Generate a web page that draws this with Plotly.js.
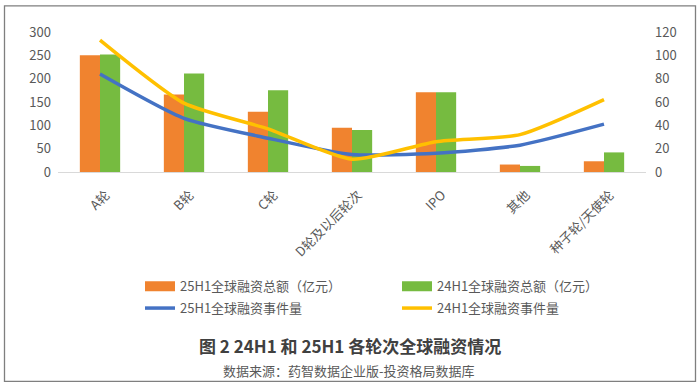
<!DOCTYPE html>
<html>
<head>
<meta charset="utf-8">
<script src="https://cdn.plot.ly/plotly-3.0.1.min.js"></script>
<style>html,body{margin:0;padding:0;background:#fff;}#chart{width:700px;height:388px;}</style>
</head>
<body>
<div id="chart"></div>
<script>
const categories = ["A轮", "B轮", "C轮", "D轮及以后轮次", "IPO", "其他", "种子轮/天使轮"];
const amount25 = [250, 166, 129, 95, 171, 16, 23];
const amount24 = [252, 211, 175, 90, 171, 13, 42];
const count25 = [84, 46, 29, 15, 16, 23, 41];
const count24 = [113, 59, 37, 11, 26, 32, 62];
const leftTicks = [0, 50, 100, 150, 200, 250, 300];
const rightTicks = [0, 20, 40, 60, 80, 100, 120];
const names = ["25H1全球融资总额（亿元）", "24H1全球融资总额（亿元）", "25H1全球融资事件量", "24H1全球融资事件量"];
const colors = ["#F0832F", "#76BB40", "#4472C4", "#FFC000"];

const FONT = "Noto Sans CJK SC, Noto Sans, sans-serif";
const GRAY = "#595959";

const traces = [
  {type: "bar", x: categories, y: amount25, name: names[0], marker: {color: colors[0]}, showlegend: false, yaxis: "y"},
  {type: "bar", x: categories, y: amount24, name: names[1], marker: {color: colors[1]}, showlegend: false, yaxis: "y"},
  {type: "scatter", mode: "lines", x: categories, y: count25, name: names[2], line: {color: colors[2], width: 3.5, shape: "spline", smoothing: 0.6}, yaxis: "y2", showlegend: false},
  {type: "scatter", mode: "lines", x: categories, y: count24, name: names[3], line: {color: colors[3], width: 3.5, shape: "spline", smoothing: 0.6}, yaxis: "y2", showlegend: false},
  // legend entries
  {type: "scatter", mode: "lines", x: [null], y: [null], name: names[0], line: {color: colors[0], width: 10}, legend: "legend"},
  {type: "scatter", mode: "lines", x: [null], y: [null], name: names[1], line: {color: colors[1], width: 10}, legend: "legend"},
  {type: "scatter", mode: "lines", x: [null], y: [null], name: names[2], line: {color: colors[2], width: 3.5}, legend: "legend2"},
  {type: "scatter", mode: "lines", x: [null], y: [null], name: names[3], line: {color: colors[3], width: 3.5}, legend: "legend2"}
];

const H = 140.6;
const py = v => (172.3 - v) / H;
const px = v => (v - 58) / 588;

const layout = {
  width: 700, height: 388,
  margin: {l: 58, r: 54, t: 31.7, b: 388 - 172.3},
  paper_bgcolor: "#fff", plot_bgcolor: "#fff",
  font: {family: FONT, size: 13, color: GRAY},
  barmode: "group", bargap: 0.52, bargroupgap: 0,
  xaxis: {
    type: "category", showgrid: false, showline: true, linecolor: "#D9D9D9", linewidth: 1.3,
    ticks: "", tickangle: -45, tickfont: {family: FONT, size: 13, color: GRAY},
    ticklabelstandoff: 9, ticklabelshift: 6
  },
  yaxis: {
    range: [0, 300], tickvals: leftTicks, showgrid: false, zeroline: false, showline: false,
    ticks: "", tickfont: {family: FONT, size: 13, color: GRAY}, ticklabelstandoff: 6
  },
  yaxis2: {
    range: [0, 120], tickvals: rightTicks, overlaying: "y", side: "right", showgrid: false, zeroline: false,
    showline: false, ticks: "", tickfont: {family: FONT, size: 13, color: GRAY}, ticklabelstandoff: 8
  },
  legend: {
    orientation: "h", x: px(140), y: py(287), xanchor: "left", yanchor: "middle",
    font: {family: FONT, size: 13, color: GRAY}, entrywidth: 212, entrywidthmode: "pixels",
    bgcolor: "rgba(0,0,0,0)", itemwidth: 30, tracegroupgap: 0
  },
  legend2: {
    orientation: "h", x: px(140), y: py(309), xanchor: "left", yanchor: "middle",
    font: {family: FONT, size: 13, color: GRAY}, entrywidth: 212, entrywidthmode: "pixels",
    bgcolor: "rgba(0,0,0,0)", itemwidth: 30, tracegroupgap: 0
  },
  annotations: [
    {text: "<b>图 2 24H1 和 25H1 各轮次全球融资情况</b>", xref: "paper", yref: "paper", x: px(350), y: py(347),
     xanchor: "center", yanchor: "middle", showarrow: false, font: {family: FONT, size: 17, color: "#404040"}},
    {text: "数据来源：药智数据企业版-投资格局数据库", xref: "paper", yref: "paper", x: px(349), y: py(372),
     xanchor: "center", yanchor: "middle", showarrow: false, font: {family: FONT, size: 13, color: GRAY}}
  ],
  shapes: [
    {type: "rect", xref: "paper", yref: "paper", x0: px(4.5), x1: px(695.5), y0: py(382.5), y1: py(5.5),
     line: {color: "#7F7F7F", width: 1.3}, fillcolor: "rgba(0,0,0,0)", layer: "below"}
  ]
};

Plotly.newPlot("chart", traces, layout, {displayModeBar: false, staticPlot: true});
</script>
</body>
</html>
